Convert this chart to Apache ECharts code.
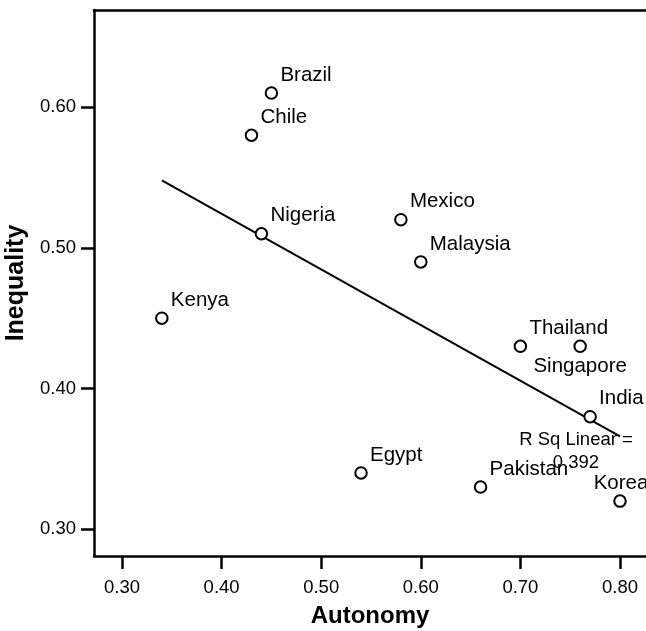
<!DOCTYPE html>
<html>
<head>
<meta charset="utf-8">
<script src="https://cdn.jsdelivr.net/npm/echarts@6/dist/echarts.min.js"></script>
<style>
  html, body { margin: 0; padding: 0; background: #fff; }
  #chart { width: 646px; height: 631px; }
</style>
</head>
<body>
<div id="chart"></div>
<script>
// Country-level autonomy vs. inequality
const countries = ['Brazil', 'Chile', 'Nigeria', 'Mexico', 'Malaysia', 'Kenya',
                   'Thailand', 'Singapore', 'India', 'Egypt', 'Pakistan', 'Korea'];
const autonomy   = [0.45, 0.43, 0.44, 0.58, 0.60, 0.34, 0.70, 0.76, 0.77, 0.54, 0.66, 0.80];
const inequality = [0.61, 0.58, 0.51, 0.52, 0.49, 0.45, 0.43, 0.43, 0.38, 0.34, 0.33, 0.32];

// Linear fit line end points and its R squared
const fitLine = [[0.34, 0.548], [0.80, 0.366]];
const rSquared = 0.392;

// Axis tick labels
const xTicks = [0.30, 0.40, 0.50, 0.60, 0.70, 0.80];
const yTicks = [0.30, 0.40, 0.50, 0.60];

const FONT = '"Liberation Sans", Arial, Helvetica, sans-serif';
const X_MIN = 0.2719, X_MAX = 0.8261;
const Y_MIN = 0.281, Y_MAX = 0.669;

// Label placement: most labels sit up and to the right of the marker
function labelFor(name) {
  if (name === 'Singapore') {
    return { align: 'center', offset: [0, 20] };
  }
  if (name === 'Korea') {
    return { align: 'center', offset: [1, -18] };
  }
  return { align: 'left', offset: [9, -18] };
}

const points = countries.map((name, i) => {
  const l = labelFor(name);
  return {
    name: name,
    value: [autonomy[i], inequality[i]],
    label: { align: l.align, offset: l.offset }
  };
});

const chart = echarts.init(document.getElementById('chart'), null, { renderer: 'canvas' });

chart.setOption({
  animation: false,
  backgroundColor: '#fff',
  grid: { left: 94, top: 10, right: 0, bottom: 75, containLabel: false, outerBoundsMode: 'none' },
  xAxis: [
    {
      type: 'value',
      min: X_MIN, max: X_MAX,
      name: 'Autonomy',
      nameLocation: 'middle',
      nameGap: 60,
      nameTextStyle: { fontFamily: FONT, fontSize: 24, fontWeight: 'bold', color: '#000', verticalAlign: 'middle' },
      axisLine: { show: true, lineStyle: { color: '#000', width: 2.5 } },
      axisTick: { show: true, length: 13, customValues: xTicks, lineStyle: { color: '#000', width: 2.5 } },
      axisLabel: {
        customValues: xTicks, margin: 22,
        formatter: v => v.toFixed(2),
        fontFamily: FONT, fontSize: 18.5, color: '#000'
      },
      splitLine: { show: false }
    },
    {
      // top frame line
      type: 'value',
      position: 'top',
      min: X_MIN, max: X_MAX,
      axisLine: { show: true, lineStyle: { color: '#000', width: 2.5 } },
      axisTick: { show: false },
      axisLabel: { show: false },
      splitLine: { show: false }
    }
  ],
  yAxis: {
    type: 'value',
    min: Y_MIN, max: Y_MAX,
    name: 'Inequality',
    nameLocation: 'middle',
    nameGap: 59,
    nameTextStyle: { fontFamily: FONT, fontSize: 25, fontWeight: 'bold', color: '#000', verticalAlign: 'middle' },
    axisLine: { show: true, lineStyle: { color: '#000', width: 2.5 } },
    axisTick: { show: true, length: 13, customValues: yTicks, lineStyle: { color: '#000', width: 2.5 } },
    axisLabel: {
      customValues: yTicks, margin: 18,
      formatter: v => v.toFixed(2),
      fontFamily: FONT, fontSize: 18.5, color: '#000'
    },
    splitLine: { show: false }
  },
  series: [
    {
      type: 'line',
      data: fitLine,
      symbol: 'none',
      lineStyle: { color: '#000', width: 2 },
      z: 2,
      endLabel: {
        show: true,
        formatter: 'R Sq Linear =\n' + rSquared.toFixed(3),
        align: 'center',
        verticalAlign: 'top',
        offset: [-52, -8],
        lineHeight: 23,
        fontFamily: FONT, fontSize: 18.5, color: '#000'
      }
    },
    {
      type: 'scatter',
      data: points,
      symbol: 'circle',
      symbolSize: 11.5,
      itemStyle: { color: '#fff', borderColor: '#000', borderWidth: 2, opacity: 1 },
      z: 3,
      label: {
        show: true,
        position: 'inside',
        verticalAlign: 'middle',
        formatter: p => p.name,
        fontFamily: FONT, fontSize: 20.5, color: '#000'
      },
      emphasis: { disabled: true }
    }
  ]
});
</script>
</body>
</html>
